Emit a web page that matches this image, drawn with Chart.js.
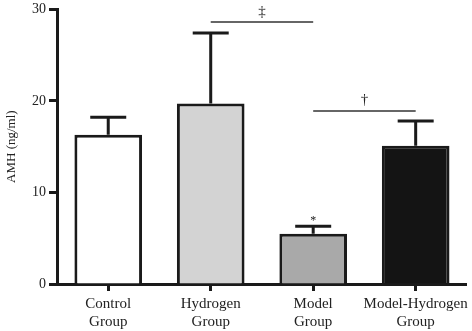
<!DOCTYPE html>
<html>
<head>
<meta charset="utf-8">
<script src="https://cdn.jsdelivr.net/npm/chart.js@4"></script>
<style>
  html, body { margin: 0; padding: 0; background: #fff; }
  #wrap { width: 472px; height: 331px; }
</style>
</head>
<body>
<div id="wrap"><canvas id="amh-chart"></canvas></div>
<script>
// values
var groups = [["Control", "Group"], ["Hydrogen", "Group"], ["Model", "Group"], ["Model-Hydrogen", "Group"]];
var amhMean = [16.3, 19.7, 5.5, 15.1];
var amhUpper = [18.2, 27.4, 6.3, 17.8];
var barColors = ["#ffffff", "#d3d3d3", "#a9a9a9", "#141414"];
var yTicks = [0, 10, 20, 30];
// significance brackets: [from index, to index, height, symbol]
var brackets = [[1, 2, 28.6, "\u2021"], [2, 3, 18.9, "\u2020"]];
var starMarks = [[2, "*"]];

var serif = "'Liberation Serif', 'DejaVu Serif', serif";

var errorPlugin = {
  id: 'errorBars',
  afterDatasetsDraw: function (chart) {
    var c = chart.ctx, x = chart.scales.x, y = chart.scales.y;
    c.save();
    c.strokeStyle = '#1a1a1a';
    c.lineWidth = 3;
    c.lineCap = 'butt';
    amhMean.forEach(function (v, i) {
      var px = x.getPixelForValue(i);
      var top = y.getPixelForValue(amhUpper[i]);
      c.beginPath();
      c.moveTo(px, y.getPixelForValue(v));
      c.lineTo(px, top);
      c.moveTo(px - 18, top);
      c.lineTo(px + 18, top);
      c.stroke();
    });
    c.lineWidth = 1.5;
    c.strokeStyle = '#333';
    c.fillStyle = '#222';
    c.textAlign = 'center';
    c.textBaseline = 'bottom';
    brackets.forEach(function (b) {
      var x1 = x.getPixelForValue(b[0]), x2 = x.getPixelForValue(b[1]);
      var py = y.getPixelForValue(b[2]);
      c.beginPath();
      c.moveTo(x1, py);
      c.lineTo(x2, py);
      c.stroke();
      c.font = '15px ' + serif;
      c.fillText(b[3], (x1 + x2) / 2, py - 3);
    });
    starMarks.forEach(function (s) {
      var px = x.getPixelForValue(s[0]);
      c.font = '12px ' + serif;
      c.fillText(s[1], px, y.getPixelForValue(amhUpper[s[0]]) + 1);
    });
    c.restore();
  }
};

var ctx = document.getElementById('amh-chart').getContext('2d');
var chart = new Chart(ctx, {
  type: 'bar',
  data: {
    labels: groups,
    datasets: [{
      data: amhMean,
      backgroundColor: barColors,
      borderColor: '#1a1a1a',
      borderWidth: 3,
      borderSkipped: 'bottom',
      barPercentage: 0.66,
      categoryPercentage: 1
    }]
  },
  options: {
    responsive: true,
    maintainAspectRatio: false,
    animation: false,
    layout: { padding: { top: 1, right: 2, left: 0, bottom: 0 } },
    plugins: { legend: { display: false }, tooltip: { enabled: false } },
    scales: {
      x: {
        grid: { display: true, offset: false, drawOnChartArea: false, drawTicks: true, tickLength: 7, tickWidth: 3, tickColor: '#1a1a1a' },
        border: { display: true, width: 3, color: '#1a1a1a' },
        ticks: { color: '#222', font: { family: serif, size: 15 }, padding: 4, maxRotation: 0, autoSkip: false },
        afterFit: function (s) { s.height = 47; }
      },
      y: {
        min: 0,
        max: 30,
        afterBuildTicks: function (s) { s.ticks = yTicks.map(function (v) { return { value: v }; }); },
        grid: { display: true, drawOnChartArea: false, drawTicks: true, tickLength: 8, tickWidth: 3, tickColor: '#1a1a1a' },
        border: { display: true, width: 3, color: '#1a1a1a' },
        ticks: { color: '#222', font: { family: serif, size: 14, lineHeight: 0.9 }, padding: 3 },
        title: { display: true, text: 'AMH (ng/ml)', color: '#222', font: { family: serif, size: 13 }, padding: { top: 4, bottom: 2 } },
        afterFit: function (s) { s.width = 57; }
      }
    }
  },
  plugins: [errorPlugin]
});
</script>
</body>
</html>
